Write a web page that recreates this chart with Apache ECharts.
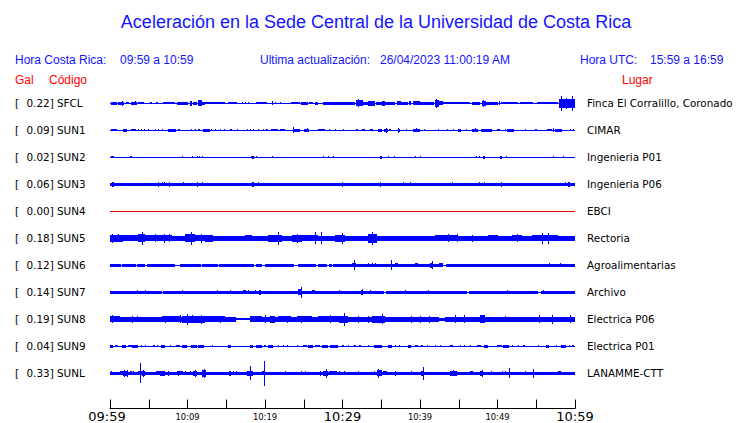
<!DOCTYPE html>
<html><head><meta charset="utf-8">
<script src="https://cdn.jsdelivr.net/npm/echarts@6/dist/echarts.min.js"></script>
<style>html,body{margin:0;padding:0;background:#fff}#c{width:740px;height:423px}</style>
</head><body><div id="c"></div>
<script>
// ---------- DATA ----------
const stations = ['SFCL','SUN1','SUN2','SUN3','SUN4','SUN5','SUN6','SUN7','SUN8','SUN9','SUNL'];
const peakGal  = ['0.22','0.09','0.02','0.06','0.00','0.18','0.12','0.14','0.19','0.04','0.33'];
const places   = ['Finca El Corralillo, Coronado','CIMAR','Ingenieria P01','Ingenieria P06','EBCI','Rectoria','Agroalimentarias','Archivo','Electrica P06','Electrica P01','LANAMME-CTT'];
const tickLabels = ['09:59','10:09','10:19','10:29','10:39','10:49','10:59'];
const tickMinutes = [0,10,20,30,40,50,60];
// background trace half-amplitude (trace units, 27 units = one row)
const baseAmp = [0.5,0.5,0.5,1.6,0.5,2.5,1.6,1.6,2.5,0.5,1.6];
// envelope segments: [startMinute, endMinute, halfAmplitude]
const sfclBursts = [[0.13,0.86,1.3],[1.08,1.85,1.3],[1.5,1.5,2.7],[2.02,2.45,1.0],[2.71,3.44,1.3],[3.23,3.23,2.0],[3.66,4.43,1.0],[5.16,5.38,1.0],[5.89,6.24,1.0],[6.88,8.39,1.0],[8.6,10.1,1.3],[10.32,10.62,2.7],[10.75,11.18,1.7],[11.31,11.83,3.0],[11.83,12.26,1.7],[12.26,14.84,1.2],[15.18,16.34,1.2],[17.0,17.0,1.0],[17.4,17.4,1.0],[17.85,17.85,1.0],[18.9,20.2,1.0],[20.86,20.86,2.0],[21.3,21.3,1.0],[21.9,21.9,1.0],[23.4,24.5,1.0],[24.65,25.5,1.7],[25.7,26.2,0.8],[26.5,26.9,1.7],[27.5,31.6,1.3],[31.7,32.7,3.0],[31.96,31.96,4.0],[32.7,33.3,1.3],[33.3,34.2,2.7],[34.3,35.05,1.3],[35.1,35.5,2.3],[35.5,36.8,1.3],[37.0,37.55,2.0],[37.55,38.5,1.3],[38.6,38.9,2.0],[39.1,40.0,2.0],[40.0,41.85,1.3],[41.94,42.45,3.3],[42.06,42.06,4.7],[42.45,43.0,2.0],[43.0,46.45,1.2],[46.67,47.74,1.7],[47.96,48.47,2.7],[48.17,48.17,3.7],[48.47,49.25,1.7],[49.25,50.1,1.3],[50.24,50.24,2.0],[50.5,52.7,1.2],[52.9,54.6,1.2],[55.05,57.85,1.0],[57.94,60,4.3],[58.2,58.2,7.5],[58.9,58.9,5.5],[59.57,59.57,7.5]];
const sun1Bursts = [[0.13,0.86,1.0],[1.72,2.15,1.3],[2.71,3.31,1.0],[3.66,3.66,1.0],[4.0,4.0,1.0],[4.43,4.43,1.0],[4.95,4.95,1.0],[5.8,5.8,1.0],[6.24,6.24,1.0],[6.67,6.67,1.0],[7.44,8.47,1.3],[8.73,9.03,1.0],[10.45,10.45,1.0],[10.97,10.97,1.0],[11.31,11.61,1.0],[12.04,12.9,1.3],[13.03,13.03,1.0],[13.55,13.55,1.0],[14.19,14.19,1.0],[14.71,14.71,1.0],[15.48,15.78,1.0],[16.34,16.34,1.0],[17.63,17.63,1.0],[18.06,18.06,1.0],[18.49,18.49,1.0],[19.14,19.14,1.0],[19.78,19.78,1.0],[20.13,20.43,1.0],[20.77,21.72,1.0],[21.94,22.58,1.0],[23.66,24.52,1.3],[23.66,23.66,3.0],[25.08,25.68,1.3],[25.38,25.38,2.0],[26.8,27.74,1.0],[28.26,28.26,1.0],[29.03,29.03,1.0],[30.06,30.06,1.0],[31.7,32.04,1.0],[32.47,32.9,1.0],[33.55,33.98,1.0],[34.62,35.14,1.3],[35.4,35.83,1.7],[35.6,35.6,2.3],[36.0,36.26,1.0],[37.12,37.42,1.3],[37.2,37.2,2.3],[38.15,38.15,1.0],[39.14,40.0,1.3],[39.44,39.44,2.0],[40.56,40.56,1.0],[42.37,42.37,1.0],[43.44,43.66,1.0],[44.3,44.3,1.0],[44.86,45.29,1.7],[45.9,45.9,1.0],[46.67,47.53,1.3],[47.1,47.1,2.0],[47.87,49.25,1.3],[49.9,50.3,1.0],[50.97,50.97,1.0],[51.18,52.17,1.3],[53.55,53.55,1.0],[54.84,55.05,1.0],[56.34,56.99,1.0],[57.2,57.2,2.0],[57.42,58.28,1.3],[59.35,59.35,1.0],[59.7,59.9,1.0]];
const sun2Bursts = [[0.13,0.52,1.0],[2.58,2.8,1.0],[9.25,9.25,0.8],[10.62,10.62,0.8],[11.18,11.18,1.0],[11.53,11.53,1.0],[11.83,11.83,1.0],[18.15,18.15,1.0],[18.28,18.58,1.3],[18.84,18.84,1.0],[20.95,20.95,1.0],[27.53,27.53,0.8],[28.09,28.09,0.8],[28.73,28.73,0.8],[34.84,35.05,1.3],[35.9,35.9,0.8],[36.69,36.69,0.8],[39.35,39.35,0.8],[40.0,40.0,0.8],[47.18,47.18,0.8],[47.66,47.66,1.0],[48.09,48.34,1.3],[50.32,50.54,1.3],[51.1,51.1,1.0],[57.2,57.2,0.8],[58.5,58.5,1.0]];
const sun3Bursts = [[0.3,0.56,2.4],[6.24,6.24,2.4],[6.75,6.75,2.2],[7.01,7.01,2.2],[7.66,7.66,2.4],[9.46,9.46,2.2],[11.27,11.27,2.4],[11.91,11.91,2.2],[18.28,18.54,2.4],[19.14,19.14,2.2],[29.98,29.98,2.4],[34.88,34.88,2.4],[37.76,37.76,2.2],[38.75,38.75,2.2],[44.17,44.17,2.2],[47.66,47.66,2.2],[48.3,48.3,2.2],[50.45,50.45,2.4],[58.71,58.71,2.2],[59.05,59.35,2.4]];
const sun4Bursts = [];
const sun5Bursts = [[0,1.72,3.6],[0.2,0.2,4.5],[1.08,1.08,4.0],[1.72,3.66,2.8],[3.66,4.52,4.0],[4.17,4.17,6.3],[4.52,7.96,3.1],[5.8,5.8,4.0],[7.0,7.0,4.5],[7.6,7.6,4.0],[9.68,10.97,4.0],[10.45,10.45,6.3],[10.97,12.26,3.1],[11.74,11.74,4.5],[12.26,13.33,3.6],[14.19,17.42,2.7],[17.42,18.28,3.1],[20.43,22.15,3.6],[21.72,21.72,6.7],[22.15,23.44,2.7],[23.44,24.73,3.6],[24.09,24.09,4.5],[24.73,26.88,3.1],[26.45,26.45,5.8],[27.23,27.23,5.8],[26.88,29.03,2.7],[29.03,30.32,3.6],[29.89,29.89,5.4],[30.32,33.33,2.7],[33.33,34.41,4.5],[33.76,33.76,6.3],[34.41,38.06,2.7],[41.94,44.95,3.1],[43.66,43.66,4.0],[44.73,44.73,4.0],[46.67,46.67,3.6],[48.82,50.11,3.1],[51.83,53.12,3.1],[52.47,52.47,4.0],[54.41,57.85,3.1],[55.7,55.7,5.4],[56.56,56.56,5.4],[57.85,60,2.7]];
const sun6Bursts = [[1.4,1.5,0.5],[3.3,3.4,0.5],[4.5,4.8,0.5],[8.4,9.0,0.5],[11.8,11.9,0.5],[13.9,14.1,0.5],[18.6,18.8,0.5],[19.6,20.0,0.5],[23.7,24.3,0.5],[26.6,26.8,0.5],[28.0,28.3,0.5],[28.6,28.8,0.5],[43.0,43.3,0.5],[31.2,31.8,2.0],[31.5,31.5,5.0],[33.3,33.3,2.0],[33.76,33.76,2.0],[34.2,34.2,2.0],[36.2,36.2,5.0],[36.8,37.2,2.0],[39.35,39.8,2.0],[41.3,41.7,2.3],[41.6,41.6,4.0],[42.4,43.0,2.0],[56.6,56.6,2.0],[58.1,58.1,2.0]];
const sun7Bursts = [[3.44,3.44,2.0],[4.5,4.5,2.0],[6.7,6.9,0.5],[9.25,9.25,2.0],[13.76,13.76,2.0],[15.48,15.48,2.0],[17.2,17.6,2.2],[17.85,17.85,2.0],[18.7,18.7,2.0],[19.2,19.5,2.4],[24.3,24.8,2.8],[24.6,24.6,5.5],[26.0,26.5,2.2],[29.5,29.5,2.0],[32.4,32.7,2.4],[32.5,32.5,3.2],[33.5,33.5,2.0],[35.3,35.6,0.5],[38.06,38.06,2.2],[41.0,41.0,2.0],[46.0,46.3,0.5],[51.2,51.2,2.0],[55.2,55.6,0.5],[55.9,55.9,2.0]];
const sun8Bursts = [[0,1.3,3.0],[0.2,0.2,3.8],[2.8,2.8,3.3],[3.5,3.5,3.0],[6.67,9.03,2.8],[7.1,7.1,3.4],[9.03,9.03,3.8],[9.25,12.26,3.3],[9.9,9.9,5.5],[10.6,10.6,4.2],[11.8,11.8,4.5],[12.26,14.84,2.8],[14.2,14.2,3.4],[16.3,18.0,1.0],[18.0,19.57,2.8],[20.0,20.0,3.8],[20.65,21.3,3.4],[21.7,23.4,3.0],[22.8,22.8,3.4],[24.1,26.0,3.0],[24.7,24.7,3.4],[26.9,29.5,3.0],[28.4,28.4,3.8],[29.5,30.75,3.4],[30.2,30.2,6.3],[32.0,32.0,3.4],[33.3,33.3,3.4],[33.76,35.5,3.4],[35.05,35.05,5.0],[38.9,38.9,3.4],[40.0,40.0,3.4],[41.1,41.1,3.4],[42.4,43.2,1.5],[44.5,44.5,3.8],[45.7,45.7,3.8],[47.7,48.4,3.8],[51.0,51.0,3.0],[55.3,55.3,3.8],[57.0,57.0,4.5],[59.35,59.35,3.8]];
const sun9Bursts = [[0,0.43,1.3],[0.65,1.08,1.0],[1.6,2.0,1.3],[2.37,2.8,1.0],[2.8,3.66,1.3],[4.0,4.0,1.0],[4.5,4.5,1.0],[5.6,5.8,1.0],[6.1,6.1,1.0],[6.6,7.1,1.3],[7.74,7.74,1.0],[8.47,9.03,1.0],[9.25,9.9,1.3],[10.45,11.18,1.3],[11.4,12.17,1.3],[13.2,13.2,1.0],[15.27,15.61,1.3],[18.06,18.49,1.3],[18.8,19.57,1.3],[19.9,20.1,1.0],[20.43,21.08,1.3],[21.7,21.7,1.0],[22.37,22.37,1.0],[22.9,22.9,1.0],[24.1,24.1,1.0],[24.95,25.4,1.0],[25.6,26.24,1.3],[26.5,27.1,1.0],[27.4,28.1,1.3],[28.4,29.46,1.3],[29.9,30.2,1.0],[30.75,30.75,1.0],[31.5,31.8,1.0],[32.1,32.4,1.0],[33.3,33.3,1.0],[34.1,35.1,1.3],[35.9,36.4,1.3],[36.8,36.8,1.0],[37.3,37.3,1.0],[38.5,38.8,1.3],[39.3,39.8,1.0],[40.1,40.4,1.0],[40.9,40.9,1.0],[41.9,41.9,1.0],[42.6,42.6,1.0],[43.9,44.3,1.0],[45.1,45.3,1.0],[45.7,45.7,1.0],[46.5,46.5,1.0],[47.4,47.9,1.0],[48.2,48.8,1.3],[49.9,49.9,1.0],[50.1,50.6,1.0],[50.75,51.5,1.3],[51.9,51.9,1.0],[52.6,52.6,1.0],[53.3,53.6,1.0],[55.2,55.35,1.0],[56.3,56.6,1.3],[57.5,57.5,1.0],[58.2,58.8,1.3],[59.2,59.2,1.0],[59.66,59.83,1.0]];
const sunlBursts = [[0.13,0.13,2.2],[1.3,1.7,2.2],[1.7,2.37,2.7],[1.85,1.85,3.3],[2.15,2.15,3.3],[2.58,2.9,2.2],[3.0,3.0,2.2],[3.66,4.1,2.2],[3.9,3.9,10.0],[4.1,4.5,2.4],[4.3,4.3,3.3],[5.9,6.45,2.2],[6.45,7.1,2.4],[6.67,6.67,2.7],[7.5,7.5,2.7],[8.6,9.46,2.2],[8.8,8.8,2.7],[9.68,9.68,2.2],[10.3,10.3,2.2],[10.75,11.18,2.4],[10.97,10.97,3.3],[11.83,12.34,3.3],[12.13,12.13,4.3],[15.35,15.6,2.7],[15.9,15.9,2.2],[16.2,16.2,2.2],[17.63,18.5,2.4],[18.06,18.06,7.0],[19.57,20.0,2.2],[19.83,19.83,12.3],[22.6,22.6,2.2],[24.7,24.7,2.2],[25.16,25.16,2.2],[27.1,27.1,2.7],[27.5,28.1,2.7],[27.83,27.83,4.3],[28.26,29.25,2.2],[29.55,29.55,2.2],[30.24,30.24,2.2],[32.04,32.04,2.2],[34.1,34.1,2.2],[34.4,35.05,3.0],[34.54,34.54,4.3],[35.27,35.7,2.2],[36.77,36.77,2.4],[38.9,38.9,2.2],[40.1,40.56,2.7],[40.43,40.43,6.3],[43.87,44.73,2.4],[44.3,44.3,3.0],[46.45,46.88,2.2],[47.74,48.17,2.4],[47.96,47.96,3.3],[49.16,49.16,2.2],[50.54,50.54,2.2],[50.97,50.97,2.2],[51.48,51.48,5.0],[53.55,53.55,2.2],[54.54,54.54,4.3],[57.85,58.2,2.2]];
const allBursts = [sfclBursts,sun1Bursts,sun2Bursts,sun3Bursts,sun4Bursts,sun5Bursts,sun6Bursts,sun7Bursts,sun8Bursts,sun9Bursts,sunlBursts];

// ---------- CHART ----------
const ROW_UNITS = 27;
const TRACE_BLUE = '#0000ff';
const DEAD_RED = '#e00000';
const items = [];
stations.forEach((s, i) => {
  items.push([0, i, 60, baseAmp[i], 0]);
  const segs = allBursts[i].slice();
  const gaps = segs.filter(d => d[2] < baseAmp[i]);
  const bursts = segs.filter(d => d[2] >= baseAmp[i]);
  gaps.forEach(d => items.push([d[0], i, d[1], d[2], 1]));
  bursts.forEach(d => items.push([d[0], i, d[1], d[2], 2]));
});

function renderItem(params, api) {
  const t0 = api.value(0), row = api.value(1), t1 = api.value(2), amp = api.value(3), kind = api.value(4);
  const p0 = api.coord([t0, row]), p1 = api.coord([t1, row]);
  const band = api.size([0, 1])[1];
  const k = band / ROW_UNITS;
  const cy = Math.round(p0[1]);
  const x0 = Math.round(p0[0]);
  const w = Math.max(1, Math.round(p1[0]) - x0);
  const color = peakGal[row] === '0.00' ? DEAD_RED : TRACE_BLUE;
  const h = Math.max(1, Math.round(2 * amp * k));
  const rect = {type:'rect', shape:{x:x0, y:cy - Math.floor(h/2), width:w, height:h}, style:{fill:color}};
  if (kind === 1) {
    const hb = Math.max(1, Math.round(2 * baseAmp[row] * k));
    return {type:'group', children:[
      {type:'rect', shape:{x:x0, y:cy - Math.floor(hb/2), width:w, height:hb}, style:{fill:'#fff'}},
      rect]};
  }
  return rect;
}

const chart = echarts.init(document.getElementById('c'), null, {renderer:'svg'});
const SANS = '"Liberation Sans", Arial, sans-serif';
const DJ = '"DejaVu Sans", sans-serif';
const BLUE_TXT = '#1414ff';
function txt(text, x, y, font, fill, align) {
  return {type:'text', x:x, y:y, style:{text:text, font:font, fill:fill, align:align || 'left', verticalAlign:'middle'}};
}
chart.setOption({
  animation:false,
  backgroundColor:'#fff',
  grid:[
    {left:110, right:165, top:89.5, height:297},
    {left:110, right:165, top:395, height:14}
  ],
  xAxis:[
    {type:'value', gridIndex:0, min:0, max:60, show:false},
    {type:'value', gridIndex:1, min:0, max:60, interval:5,
     axisLine:{show:true, lineStyle:{color:'#000', width:1}},
     axisTick:{show:true, inside:true, length:9, lineStyle:{color:'#000', width:1}},
     splitLine:{show:false},
     axisLabel:{interval:0, margin:1, showMinLabel:true, showMaxLabel:true,
       formatter:function(v){
         const idx = tickMinutes.indexOf(v);
         if (idx < 0) return '';
         if (idx === 0) return '{first|' + tickLabels[idx] + '}';
         const big = (idx % 3 === 0);
         return (big ? '{big|' : '{small|') + tickLabels[idx] + '}';
       },
       rich:{
         first:{fontFamily:DJ, fontSize:13, lineHeight:14, color:'#000', verticalAlign:'middle', padding:[0,6,0,0]},
         big:{fontFamily:DJ, fontSize:13, lineHeight:14, color:'#000', verticalAlign:'middle'},
         small:{fontFamily:DJ, fontSize:8.4, lineHeight:14, color:'#000', verticalAlign:'middle'}
       }}
    }
  ],
  yAxis:[
    {type:'category', gridIndex:0, data:stations, inverse:true,
     axisLine:{show:false}, axisTick:{show:false}, splitLine:{show:false},
     axisLabel:{align:'left', margin:95,
       formatter:function(v, i){ return '{br|[}{t|' + peakGal[i] + '] ' + v + '}'; },
       rich:{br:{fontFamily:DJ, fontSize:10.4, color:'#000', width:11.5}, t:{fontFamily:DJ, fontSize:10.4, color:'#000'}}}},
    {type:'category', gridIndex:0, data:places, inverse:true, position:'right',
     axisLine:{show:false}, axisTick:{show:false}, splitLine:{show:false},
     axisLabel:{align:'left', margin:12, fontFamily:DJ, fontSize:10.4, color:'#000'}},
    {type:'value', gridIndex:1, show:false}
  ],
  series:[{type:'custom', xAxisIndex:0, yAxisIndex:0, renderItem:renderItem, data:items, clip:false, silent:true}],
  graphic:[
    txt('Aceleración en la Sede Central de la Universidad de Costa Rica', 376, 22, '18px ' + SANS, BLUE_TXT, 'center'),
    txt('Hora Costa Rica:', 15, 60, '12px ' + SANS, BLUE_TXT),
    txt('09:59 a 10:59', 120, 60, '12px ' + SANS, BLUE_TXT),
    txt('Ultima actualización:', 260, 60, '12px ' + SANS, BLUE_TXT),
    txt('26/04/2023 11:00:19 AM', 380, 60, '12px ' + SANS, BLUE_TXT),
    txt('Hora UTC:', 580, 60, '12px ' + SANS, BLUE_TXT),
    txt('15:59 a 16:59', 650, 60, '12px ' + SANS, BLUE_TXT),
    txt('Gal', 15, 80, '12px ' + SANS, '#ff0000'),
    txt('Código', 49, 80, '12px ' + SANS, '#ff0000'),
    txt('Lugar', 622, 80, '12px ' + SANS, '#ff0000')
  ]
});
</script></body></html>
